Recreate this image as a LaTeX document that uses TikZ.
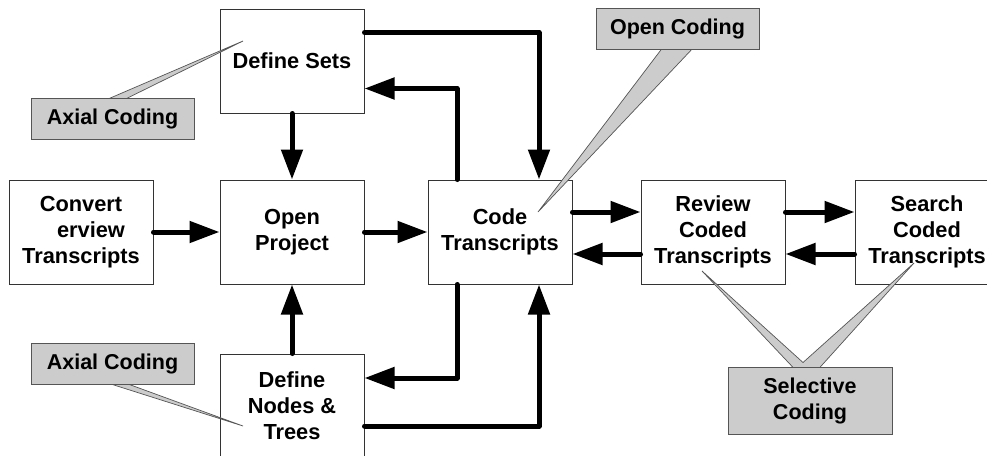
\documentclass[tikz,border=0pt]{standalone}
\usepackage{fontspec}
\setmainfont{Liberation Sans}
\usepackage{tikz}
\usetikzlibrary{arrows.meta,positioning,calc}
\definecolor{callgray}{HTML}{CCCCCC}
\definecolor{rimgray}{HTML}{555555}
\definecolor{boxrim}{HTML}{333333}

\begin{document}
\begin{tikzpicture}[x=1pt,y=-1pt,node distance=66pt,
  stepbox/.style={draw=boxrim,line width=1pt,fill=white,minimum width=144pt,minimum height=104pt,inner sep=0pt,align=center,font=\bfseries\fontsize{21.8}{26}\selectfont},
  tagbox/.style={draw=rimgray,line width=0.9pt,fill=callgray,minimum width=163pt,minimum height=41pt,inner sep=0pt,align=center,font=\bfseries\fontsize{21.5}{26}\selectfont},
  wedgeline/.style={draw=rimgray,line width=0.7pt,line join=miter},
  flow/.style={line width=5pt,line cap=round,line join=round,-{Triangle[length=30pt,width=21pt]}}]
\useasboundingbox (0,0) rectangle (987,455);
% process boxes
\node[stepbox] (open) at (292,232) {Open\\Project};
\node[stepbox,left=of open] (conv) {Convert\\\hspace*{20pt}erview\\Transcripts};
\node[stepbox,above=of open] (sets) {Define Sets};
\node[stepbox,below=69pt of open] (nodes) {Define\\Nodes \&\\Trees};
\node[stepbox,right=63pt of open] (code) {Code\\Transcripts};
\node[stepbox,right=68pt of code] (review) {Review\\Coded\\Transcripts};
\node[stepbox,right=69pt of review] (search) {Search\\Coded\\Transcripts};
% flow arrows
\foreach \a/\b in {conv/open,open/code,sets/open,nodes/open}{\draw[flow](\a)--(\b);}
\draw[flow] ([yshift=20pt]code.east) -- ([yshift=20pt]review.west);
\draw[flow] ([yshift=-22pt]review.west) -- ([yshift=-22pt]code.east);
\draw[flow] ([yshift=20pt]review.east) -- ([yshift=20pt]search.west);
\draw[flow] ([yshift=-22pt]search.west) -- ([yshift=-22pt]review.east);
\draw[flow] ([yshift=28.5pt]sets.east) -| ([xshift=39pt]code.north);
\draw[flow] ([xshift=-43pt]code.north) |- ([yshift=-27.5pt]sets.east);
\draw[flow] ([xshift=-43pt]code.south) |- ([yshift=28pt]nodes.east);
\draw[flow] ([yshift=-20pt]nodes.east) -| ([xshift=39pt]code.south);
% callout anchors and pointer tips
\coordinate (axA) at (112.5,118.5);
\coordinate (axB) at (112.5,364);
\coordinate (opc) at (677.5,28.5);
\coordinate (sel) at (810,400.5);
\coordinate (tipA) at (243,41);
\coordinate (tipB) at (243,426);
\coordinate (tipO) at (538,212);
\coordinate (tipR) at (702,271);
\coordinate (tipS) at (914,263);
% pointers
\fill[callgray] ($(axA)+(-8,-18)$) -- (tipA) -- ($(axA)+(10,-18)$) -- cycle;
\draw[wedgeline] ($(axA)+(-8,-18)$) -- (tipA) -- ($(axA)+(10,-18)$);
\fill[callgray] ($(axB)+(-8,18)$) -- (tipB) -- ($(axB)+(10,18)$) -- cycle;
\draw[wedgeline] ($(axB)+(-8,18)$) -- (tipB) -- ($(axB)+(10,18)$);
\fill[callgray] ($(opc)+(-14,18)$) -- (tipO) -- ($(opc)+(17,18)$) -- cycle;
\draw[wedgeline] ($(opc)+(-14,18)$) -- (tipO) -- ($(opc)+(17,18)$);
\fill[callgray] ($(sel)+(-15,-31)$) -- (tipR) -- ($(sel)+(-7,-38)$) -- (tipS) -- ($(sel)+(8,-31)$) -- cycle;
\draw[wedgeline] ($(sel)+(-15,-31)$) -- (tipR) -- ($(sel)+(-7,-38)$) -- (tipS) -- ($(sel)+(8,-31)$);
% callouts
\node[tagbox] (axialtop) at (axA) {Axial Coding};
\node[tagbox] (axialbot) at (axB) {Axial Coding};
\node[tagbox] (opencode) at (opc) {Open Coding};
\node[tagbox,minimum width=164pt,minimum height=67pt] (selcode) at (sel) {Selective\\Coding};
\end{tikzpicture}
\end{document}
